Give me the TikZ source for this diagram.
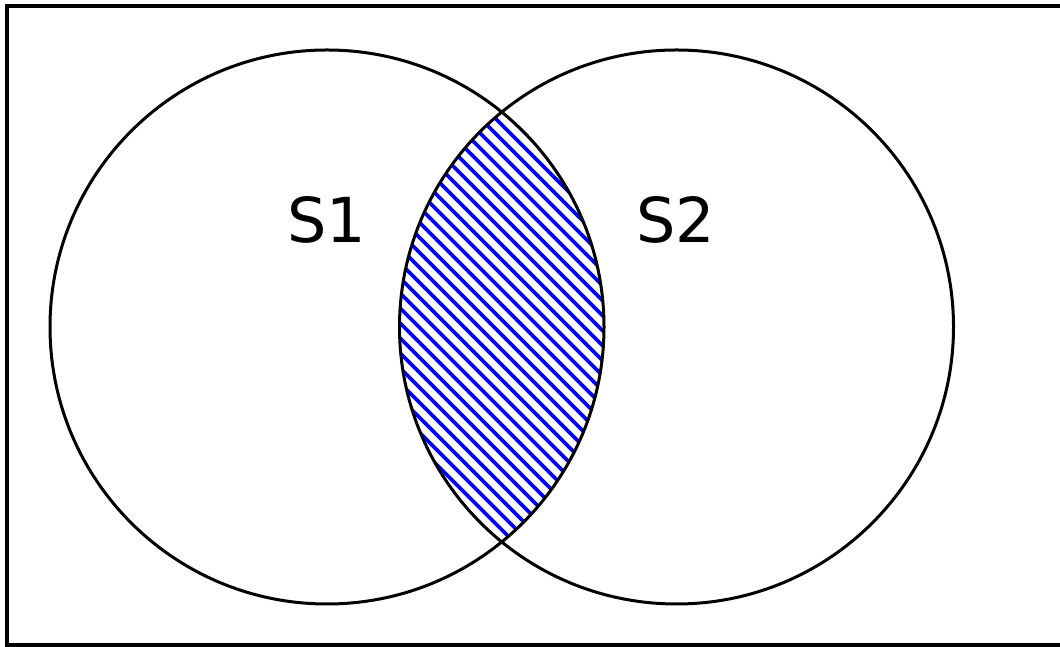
\documentclass[tikz,border=0pt]{standalone}
\usepackage{fontspec}
\setsansfont{DejaVu Sans}

\begin{document}
\begin{tikzpicture}[x=1pt, y=1pt,
  set/.style={draw, circle, line width=3pt, minimum size=554pt, inner sep=0pt},
  setname/.style={font=\sffamily\fontsize{62}{62}\selectfont, inner sep=0pt},
  hatch/.style={draw=blue, line width=3.6pt}
]
\useasboundingbox (0,0) rectangle (1060,647);
% universe frame (right side runs off the page)
\draw[line width=4.5pt] (7,2) rectangle (1075,641);

\coordinate (c1) at (327,320);
\coordinate (c2) at (676.5,320);

% intersection of the two sets
\begin{scope}
  \clip (c1) circle (277);
  \clip (c2) circle (277);
  \foreach \k in {484,499,...,1174}
    \draw[hatch] (\k-600,600) -- (\k,0);
\end{scope}

\node[set] (s1) at (c1) {};
\node[set] (s2) at (c2) {};

\node[setname] (n1) at (326.5,427) {S1};
\node[setname] (n2) at (675.5,427) {S2};
\end{tikzpicture}
\end{document}
